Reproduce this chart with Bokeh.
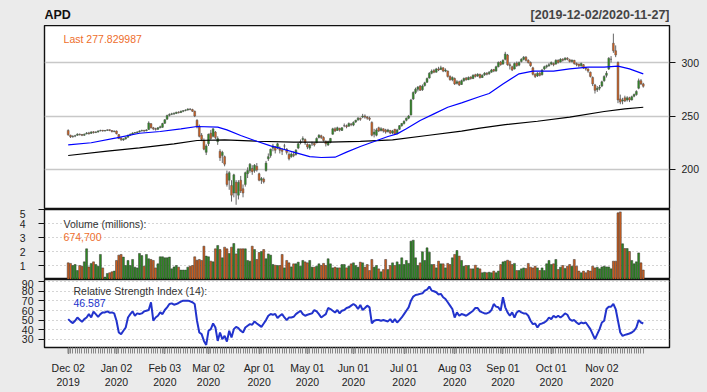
import pandas as pd
from bokeh.plotting import figure
from bokeh.layouts import column
from bokeh.models import (ColumnDataSource, FixedTicker, Label, Range1d,
                          GlobalInlineStyleSheet)
from bokeh.embed import file_html
from bokeh.resources import INLINE

symbol = "APD"
holidays = ["2019-12-25", "2020-01-01", "2020-01-20", "2020-02-17", "2020-04-10",
            "2020-05-25", "2020-07-03", "2020-09-07", "2020-11-26"]
dates = [d for d in pd.bdate_range("2019-12-02", "2020-11-27")
         if d.strftime("%Y-%m-%d") not in holidays]

open_ = [
    # Dec
    236.5, 232.0, 230.5, 231.2, 232.0, 233.0, 232.6, 232.0, 233.4, 234.2, 233.8, 235.2, 234.6, 235.0, 236.2, 236.6, 236.0, 236.6, 237.2, 236.4, 235.4,
    # Jan
    236.0, 232.6, 229.4, 227.6, 228.6, 230.2, 232.2, 233.0, 234.2, 234.4, 235.2, 236.0, 236.6, 236.2, 237.4, 242.8, 239.0, 238.2, 237.6, 239.0, 239.4,
    # Feb
    243.2, 247.0, 250.6, 251.6, 252.0, 252.4, 253.6, 253.2, 254.4, 255.2, 255.6, 256.4, 256.0, 254.5, 246.0, 240.5, 232.0, 227.0, 216.0,
    # Mar
    224.0, 234.0, 231.0, 235.0, 226.0, 217.0, 213.0, 212.0, 196.0, 190.0, 185.0, 178.0, 188.0, 176.0, 190.0, 182.0, 186.0, 196.0, 199.0, 201.0, 199.0, 203.0,
    # Apr
    196.0, 190.0, 191.0, 199.0, 210.0, 213.0, 220.0, 221.0, 220.0, 220.0, 218.5, 222.0, 219.0, 214.0, 212.0, 214.0, 214.0, 220.0, 225.0, 228.0, 228.0,
    # May
    223.5, 220.0, 224.0, 224.5, 225.0, 230.0, 231.5, 230.0, 226.5, 223.0, 225.5, 233.0, 238.0, 236.5, 238.5, 236.5, 241.0, 241.0, 240.5, 242.5,
    # Jun
    241.5, 244.5, 246.5, 248.0, 249.0, 250.0, 249.0, 248.0, 244.0, 233.0, 232.0, 239.0, 236.5, 238.0, 237.0, 235.5, 236.5, 234.0, 237.5, 233.5, 237.5, 241.0,
    # Jul
    243.0, 246.0, 248.0, 251.0, 266.0, 272.0, 275.0, 278.0, 274.5, 278.5, 281.5, 285.5, 290.0, 292.5, 291.0, 294.0, 293.5, 295.0, 292.0, 292.0, 287.0, 284.0,
    # Aug
    285.0, 280.5, 282.0, 279.5, 283.0, 285.5, 284.0, 286.5, 285.0, 288.5, 287.5, 289.0, 286.0, 288.5, 290.0, 289.5, 291.0, 293.5, 292.0, 296.0, 300.5,
    # Sep
    298.5, 303.0, 307.0, 298.0, 296.0, 294.0, 299.5, 297.5, 301.0, 303.0, 305.0, 302.0, 300.0, 295.0, 289.0, 287.5, 290.0, 288.5, 294.0, 296.0, 297.0,
    # Oct
    298.5, 299.0, 298.5, 302.0, 300.5, 303.0, 302.5, 304.0, 302.5, 301.0, 302.0, 299.0, 298.5, 297.0, 298.0, 295.0, 294.0, 291.0, 286.0, 279.0, 274.5, 276.0,
    # Nov
    278.0, 283.0, 288.0, 294.0, 303.0, 318.0, 311.0, 300.0, 266.0, 264.0, 267.0, 265.0, 267.0, 265.0, 268.5, 270.0, 276.0, 283.0, 280.0,
]
high = [
    237.5, 232.5, 232.0, 232.4, 233.8, 233.6, 233.2, 233.6, 235.0, 235.2, 235.8, 235.8, 235.8, 236.6, 237.2, 237.0, 236.8, 237.6, 237.4, 236.8, 236.4,
    236.4, 233.0, 230.0, 229.2, 230.6, 232.6, 233.6, 234.8, 235.0, 235.8, 236.6, 237.2, 237.0, 237.6, 245.0, 243.4, 239.8, 239.0, 239.6, 241.0, 243.6,
    247.0, 251.2, 252.4, 253.0, 253.4, 254.0, 254.4, 255.0, 255.6, 256.2, 257.2, 257.4, 256.8, 255.0, 247.0, 242.0, 234.0, 229.0, 223.5,
    233.5, 237.0, 238.5, 236.0, 231.0, 219.0, 217.5, 213.0, 199.0, 198.5, 190.0, 196.0, 190.0, 190.0, 194.0, 186.0, 198.0, 202.0, 206.0, 204.0, 205.0, 206.0,
    197.0, 193.0, 192.5, 208.0, 215.0, 219.5, 224.0, 222.0, 225.0, 221.5, 220.0, 224.0, 220.0, 216.0, 216.0, 217.0, 219.0, 225.0, 228.0, 231.0, 229.0,
    224.5, 224.0, 226.0, 225.0, 230.0, 233.0, 232.5, 231.0, 227.0, 227.0, 229.5, 239.0, 239.5, 240.0, 239.0, 239.5, 243.0, 242.0, 244.0, 243.5,
    245.0, 246.5, 249.0, 248.5, 252.0, 251.5, 250.0, 249.5, 245.0, 238.0, 238.5, 240.0, 239.5, 238.5, 238.0, 238.0, 237.0, 237.0, 238.0, 238.0, 241.5, 243.5,
    246.0, 248.5, 251.0, 266.0, 273.0, 276.5, 278.0, 279.0, 279.5, 282.0, 286.0, 291.0, 293.5, 294.0, 295.0, 296.0, 297.0, 295.5, 294.5, 292.5, 288.0, 287.0,
    286.0, 283.5, 283.0, 284.0, 286.0, 286.5, 287.0, 287.0, 289.0, 289.5, 290.0, 289.5, 289.0, 291.0, 291.0, 292.0, 294.0, 294.0, 297.0, 301.0, 301.5,
    303.0, 310.0, 308.0, 300.0, 297.0, 300.0, 301.0, 301.0, 304.0, 306.0, 306.0, 303.0, 301.0, 296.0, 290.0, 291.0, 291.0, 294.0, 297.0, 298.0, 299.5,
    301.0, 300.0, 303.0, 303.0, 304.0, 304.0, 305.0, 305.0, 303.5, 303.0, 302.5, 300.0, 299.0, 300.0, 298.5, 296.0, 294.5, 291.5, 287.0, 280.0, 278.0, 279.0,
    283.0, 288.0, 292.0, 305.0, 306.0, 327.0, 316.0, 301.0, 270.0, 267.0, 269.0, 268.5, 268.0, 269.0, 271.0, 274.0, 285.0, 284.5, 281.0,
]
low = [
    231.5, 229.5, 229.8, 230.2, 231.5, 231.8, 231.2, 231.4, 232.8, 232.6, 233.2, 233.6, 234.0, 234.6, 235.6, 235.4, 235.6, 236.0, 235.8, 234.6, 234.8,
    232.8, 228.4, 226.6, 226.8, 228.0, 229.8, 231.4, 232.6, 233.4, 233.8, 234.6, 235.6, 235.2, 235.8, 237.0, 238.4, 236.8, 236.4, 237.0, 238.6, 239.0,
    242.6, 246.6, 249.6, 250.8, 251.0, 251.8, 252.4, 252.8, 253.6, 254.4, 255.0, 255.4, 253.8, 249.0, 238.5, 230.0, 226.5, 218.0, 213.5,
    222.0, 227.5, 230.0, 228.5, 223.0, 208.0, 206.0, 203.0, 184.0, 181.0, 170.0, 174.0, 167.0, 172.0, 178.0, 174.0, 184.0, 192.0, 197.0, 195.0, 197.0, 198.0,
    189.0, 186.5, 187.0, 198.0, 208.0, 211.0, 217.0, 215.0, 219.0, 215.0, 213.5, 219.0, 214.0, 208.5, 211.0, 211.5, 213.0, 219.0, 223.5, 226.0, 223.0,
    219.0, 218.5, 222.0, 221.5, 224.5, 229.0, 228.5, 226.0, 221.5, 222.0, 224.5, 232.5, 235.0, 236.0, 235.5, 236.0, 239.5, 238.5, 240.0, 240.5,
    240.5, 243.5, 245.5, 245.5, 248.0, 247.5, 246.5, 245.5, 231.0, 230.0, 231.0, 235.0, 235.5, 234.5, 233.5, 234.5, 233.0, 233.0, 232.5, 233.0, 237.0, 240.0,
    242.0, 245.0, 247.0, 250.5, 265.0, 270.5, 273.0, 273.5, 273.5, 277.5, 281.0, 285.0, 289.0, 290.0, 290.5, 292.0, 293.0, 291.0, 291.0, 286.0, 283.0, 282.5,
    279.0, 279.5, 278.0, 279.0, 282.0, 283.0, 283.5, 284.0, 284.5, 286.0, 286.5, 285.0, 285.5, 287.5, 288.0, 288.5, 290.5, 291.0, 291.5, 295.5, 297.0,
    298.0, 302.0, 297.0, 293.5, 292.0, 293.5, 296.0, 296.5, 300.0, 302.0, 301.0, 299.0, 296.0, 288.0, 285.5, 286.5, 287.0, 288.0, 293.0, 294.5, 296.0,
    297.5, 296.5, 298.0, 299.0, 300.0, 301.0, 302.0, 302.0, 300.0, 300.0, 298.0, 296.5, 295.5, 296.0, 294.0, 292.5, 290.5, 286.0, 278.0, 271.0, 272.5, 274.0,
    277.0, 282.0, 286.0, 293.0, 300.0, 309.0, 305.0, 262.0, 261.0, 261.0, 263.0, 263.5, 263.0, 264.5, 267.5, 269.0, 275.0, 279.0, 276.5,
]
close = [
    232.5, 230.5, 231.0, 231.5, 233.0, 232.5, 232.0, 233.0, 234.0, 233.5, 235.0, 234.5, 235.0, 236.0, 236.5, 236.0, 236.5, 237.0, 236.5, 235.5, 236.0,
    233.5, 229.0, 228.0, 228.5, 230.0, 232.0, 233.0, 234.0, 234.5, 235.0, 236.0, 236.5, 236.0, 237.0, 243.5, 239.0, 238.0, 237.5, 239.0, 240.0, 243.0,
    246.5, 250.5, 251.5, 252.0, 252.5, 253.5, 253.0, 254.5, 255.0, 255.5, 256.5, 256.0, 254.5, 250.0, 240.0, 231.0, 228.0, 219.0, 222.0,
    233.0, 229.0, 238.0, 230.0, 229.0, 211.0, 216.0, 205.0, 186.0, 197.0, 176.0, 195.0, 178.0, 188.0, 180.0, 178.0, 197.0, 199.0, 205.0, 198.0, 204.0, 199.5,
    190.0, 191.5, 188.5, 206.0, 212.0, 219.0, 222.0, 218.0, 224.0, 218.0, 217.0, 222.0, 216.0, 210.0, 214.5, 213.0, 218.0, 224.0, 226.0, 229.0, 225.0,
    221.0, 223.0, 224.0, 223.0, 229.0, 232.0, 230.0, 227.0, 224.0, 226.0, 229.0, 238.0, 236.0, 239.0, 237.0, 239.0, 241.0, 240.0, 243.0, 242.0,
    244.0, 246.0, 248.0, 247.0, 250.0, 249.0, 248.0, 247.0, 232.0, 235.0, 237.0, 236.0, 238.0, 236.0, 235.0, 237.0, 234.0, 236.0, 233.0, 237.0, 241.0, 243.0,
    245.0, 248.0, 250.0, 265.0, 272.0, 275.0, 277.0, 274.0, 278.0, 281.0, 285.0, 290.0, 292.0, 291.0, 294.0, 293.0, 295.0, 292.0, 293.0, 287.0, 284.0, 286.0,
    280.0, 282.0, 279.0, 283.0, 285.0, 284.0, 286.0, 285.0, 288.0, 287.0, 289.0, 286.0, 288.0, 290.0, 289.0, 291.0, 293.0, 292.0, 296.0, 300.0, 298.0,
    302.0, 308.0, 298.0, 297.0, 293.0, 299.0, 297.0, 300.0, 303.0, 305.0, 302.0, 300.0, 297.0, 289.0, 287.0, 290.0, 288.0, 293.0, 296.0, 297.0, 298.0,
    300.0, 298.0, 302.0, 300.0, 303.0, 302.0, 304.0, 303.0, 301.0, 302.0, 299.0, 298.0, 297.0, 299.0, 295.0, 294.0, 292.0, 287.0, 280.0, 274.0, 276.0, 277.0,
    282.0, 287.0, 290.0, 304.0, 303.0, 311.0, 307.0, 265.0, 263.0, 265.0, 264.0, 267.0, 265.0, 268.0, 270.0, 273.0, 283.0, 280.0, 277.829987,
]

# volume in millions
volume = [
    1.19, 1.15, 1.0, 1.07, 0.64, 1.0, 0.95, 1.26, 2.19, 0.9,
    1.15, 1.26, 1.07, 0.95, 1.79, 0.83, 0.17, 0.43, 0.48, 0.55,
    0.6, 1.36, 1.74, 1.79, 1.6, 1.0, 1.36, 1.0, 1.43, 0.88,
    0.83, 1.86, 1.71, 0.95, 1.79, 1.48, 1.43, 1.36, 0.83, 1.12,
    1.62, 1.62, 1.55, 1.55, 1.6, 0.76, 0.9, 1.0, 0.88, 0.67,
    0.67, 0.67, 0.88, 0.95, 1.0, 1.62, 1.38, 1.43, 1.36, 2.38,
    1.67, 1.62, 1.31, 1.26, 2.19, 2.43, 2.14, 1.55, 2.31, 2.19,
    1.86, 2.31, 2.57, 1.83, 2.19, 2.19, 2.19, 2.19, 1.36, 1.31,
    2.38, 2.14, 1.43, 1.93, 2.0, 2.14, 1.48, 1.83, 1.74, 1.07,
    1.02, 1.0, 1.0, 1.79, 0.83, 1.36, 1.19, 0.9, 1.12, 1.12,
    1.24, 0.95, 1.36, 1.26, 1.19, 1.36, 0.88, 0.88, 0.95, 1.12,
    1.0, 1.15, 1.0, 1.48, 1.12, 0.83, 0.88, 0.83, 0.83, 1.07,
    1.07, 0.83, 0.95, 1.12, 1.19,
    1.0, 0.88, 1.24, 1.19, 0.88, 1.07, 0.64, 1.43, 0.88, 1.0,
    0.76, 0.55, 0.71, 1.43, 0.71, 1.0, 1.19, 1.0, 1.26, 1.07,
    1.55, 1.07, 1.36, 1.15, 2.74, 2.81, 1.55, 1.0, 1.19, 1.98,
    1.36, 2.26, 1.95, 1.07, 1.07, 0.83, 1.31, 1.12, 1.12, 0.83,
    1.15, 1.07, 1.55, 1.79, 2.07, 1.67, 1.36, 0.95, 1.0, 1.0,
    0.76, 0.76, 1.02, 0.83, 0.76, 0.48, 0.52, 0.48, 0.52, 0.48,
    0.6, 0.48, 0.6, 1.07, 1.26, 1.31, 1.38, 1.31, 1.07, 1.15,
    0.64, 0.64, 0.76, 0.83, 0.79, 1.15, 0.88, 0.83, 0.95, 0.83,
    0.64, 0.83, 0.64, 1.12, 1.36, 1.07, 1.12, 1.43, 0.71, 0.88,
    1.0, 0.79, 0.95, 1.07, 0.95, 1.43, 0.95, 0.6, 0.48, 0.6,
    0.48, 0.64, 0.6, 0.95, 0.83, 0.88, 0.76, 0.9, 0.95, 0.9, 0.9,
    0.76, 1.31, 1.31, 4.76, 4.83, 2.55, 2.21, 2.21, 2.0, 1.36,
    1.12, 1.26, 1.9, 1.19, 0.6747,
]

rsi = [
    51.1, 48.7, 47.0, 49.4, 52.8, 50.4, 48.3, 51.1, 52.8, 56.3,
    52.8, 58.8, 56.3, 53.5, 56.3, 58.0, 58.0, 59.1, 57.7, 58.0,
    57.0, 49.4, 37.2, 35.5, 39.0, 42.4, 52.8, 56.3, 59.1, 54.6,
    57.0, 56.3, 57.0, 59.1, 59.8, 60.5, 68.5, 49.4, 52.8, 54.6,
    58.0, 56.3, 60.5, 63.3, 66.7, 67.4, 66.0, 66.7, 67.8, 69.2,
    70.2, 70.2, 70.2, 69.5, 68.5, 66.7, 49.4, 37.2, 35.5, 28.5,
    24.4, 39.0, 40.7, 46.6, 42.4, 28.5, 37.2, 30.3, 33.8, 27.8,
    39.0, 32.0, 40.7, 43.1, 41.7, 39.0, 37.2, 42.4, 44.2, 45.9,
    45.2, 48.7, 46.6, 44.9, 43.1, 46.6, 50.1, 54.6, 56.3, 55.6,
    56.3, 52.2, 54.6, 56.3, 52.8, 50.1, 52.8, 52.8, 53.5, 56.3,
    58.0, 59.8, 56.3, 54.6, 55.6, 56.3, 57.0, 60.5, 59.1, 56.3,
    52.8, 54.6, 56.3, 62.6, 61.5, 59.8, 58.0, 60.5, 57.0, 59.8,
    60.5, 62.6, 63.3, 65.0, 66.7,
    65.0, 61.5, 65.7, 60.5, 62.6, 65.0, 63.3, 46.6, 49.4, 50.1,
    50.1, 49.4, 50.1, 49.4, 48.7, 51.1, 47.6, 51.1, 47.6, 50.1,
    52.8, 56.3, 59.8, 63.3, 70.2, 74.4, 76.1, 76.5, 77.2, 77.8,
    80.6, 81.7, 84.8, 80.6, 79.9, 78.9, 76.5, 77.2, 73.7, 71.9,
    68.5, 65.0, 61.5, 52.8, 58.0, 54.6, 56.3, 55.6, 54.6, 56.3,
    58.0, 59.8, 62.6, 62.6, 59.1, 58.0, 57.0, 57.0, 58.0, 60.5,
    66.7, 64.0, 63.3, 59.8, 73.7, 63.3, 58.0, 54.6, 58.0, 52.8,
    58.0, 59.8, 58.0, 57.0, 57.0, 54.6, 49.4, 45.9, 46.6, 42.4,
    45.9, 46.6, 47.6, 49.4, 52.8, 51.1, 54.6, 52.8, 54.6, 52.8,
    54.6, 57.0, 55.6, 51.1, 49.4, 50.1, 47.6, 45.9, 47.6, 46.6,
    47.6, 44.2, 40.7, 35.5, 30.3, 35.5, 40.7, 47.6, 49.4, 61.5,
    64.0, 64.0, 66.7, 61.5, 49.4, 37.2, 33.8, 34.8, 35.5, 36.2,
    37.2, 39.0, 42.4, 50.1, 47.6, 46.587,
]

# moving averages read at sampled trading-day positions
sma50_day = [0, 10, 21, 31, 40, 49, 56, 65, 69, 75, 81, 88, 92, 98, 105, 110, 116, 121, 127,
             133, 139, 143, 147, 153, 159, 165, 171, 179, 183, 189, 196, 202, 211, 218, 226,
             233, 239, 244, 250]
sma50 = [223.1, 225.0, 229.6, 233.9, 235.5, 238.0, 240.2, 239.6, 237.0, 231.8, 227.1, 222.1,
         219.9, 216.2, 212.1, 211.2, 211.5, 216.2, 221.5, 226.2, 230.8, 233.3, 238.0, 245.8,
         252.0, 258.2, 262.3, 268.2, 271.0, 280.0, 289.4, 291.9, 291.9, 294.1, 295.6, 295.6,
         296.6, 294.1, 289.4]
sma200_day = [0, 17, 31, 46, 56, 68, 82, 98, 113, 127, 141, 156, 171, 179, 190, 204, 218, 233, 242, 250]
sma200 = [213.1, 217.1, 220.2, 224.0, 227.1, 227.7, 226.4, 225.5, 225.5, 226.2, 227.7, 231.8,
          235.8, 238.6, 242.0, 245.1, 248.9, 254.2, 256.7, 258.2]

assert len(dates) == len(open_) == len(high) == len(low) == len(close) == len(volume) == len(rsi) == 251

BG = "#EBEBEB"
UP = "#2E8B22"
DN = "#D2601E"
TXT = "#222222"
FONT = "Liberation Sans"
W = 707
ML, MR = 44, 38
HEAD = 25

n = len(dates)
idx = list(range(n))
colors = [UP if c >= o else DN for o, c in zip(open_, close)]
src = ColumnDataSource(dict(
    x=idx, o=open_, h=high, l=low, c=close,
    top=[max(o, c) for o, c in zip(open_, close)],
    bot=[min(o, c) for o, c in zip(open_, close)],
    col=colors, vol=volume, rsi=rsi))

xr = Range1d(-10.3, 261.4)

def style(p):
    p.border_fill_color = BG
    p.background_fill_color = "white"
    p.outline_line_color = "#111111"
    p.outline_line_width = 1.4
    p.xgrid.visible = False
    for ax in p.yaxis:
        ax.axis_line_color = None
        ax.major_tick_out = 6
        ax.major_tick_in = 0
        ax.minor_tick_line_color = None
        ax.major_tick_line_color = "#111111"
        ax.major_label_text_font = FONT
        ax.major_label_text_font_size = "10.5px"
        ax.major_label_text_color = TXT

# ---- header strip (title and date span), frame aligned with the panels below
p0 = figure(width=W, height=HEAD, x_range=xr, y_range=Range1d(0, HEAD),
            output_backend="svg", toolbar_location=None, x_axis_location=None,
            y_axis_location=None, min_border_top=0, min_border_bottom=0,
            min_border_left=ML, min_border_right=MR)
p0.border_fill_color = BG
p0.background_fill_color = BG
p0.outline_line_color = None
p0.grid.visible = False
p0.add_layout(Label(x=xr.start, y=HEAD - 14, text=symbol, text_font=FONT, text_font_size="12.5px",
                    text_font_style="bold", text_color="#111111", text_align="left",
                    text_baseline="middle"))
p0.add_layout(Label(x=xr.end, y=HEAD - 14,
                    text=f"[{dates[0]:%Y-%m-%d}/{dates[-1]:%Y-%m-%d}]",
                    text_font=FONT, text_font_size="12.5px", text_font_style="bold",
                    text_color="#444444", text_align="right", text_baseline="middle"))

# ---- price panel
p1 = figure(width=W, height=184, x_range=xr, y_range=Range1d(162.6, 334.6),
            output_backend="svg", toolbar_location=None, x_axis_location=None,
            y_axis_location="right", min_border_top=0, min_border_bottom=0,
            min_border_left=ML, min_border_right=MR)
style(p1)
p1.yaxis.ticker = FixedTicker(ticks=[200, 250, 300])
p1.yaxis.major_label_standoff = 6
p1.ygrid.ticker = FixedTicker(ticks=[200, 250, 300])
p1.ygrid.grid_line_color = "#C8C8C8"
p1.ygrid.grid_line_width = 1.5
p1.segment(x0="x", y0="l", x1="x", y1="h", source=src, line_color="#666666", line_width=1)
p1.vbar(x="x", width=0.8, top="top", bottom="bot", source=src, fill_color="col",
        line_color="#555555", line_width=0.5)
p1.line(sma200_day, sma200, line_color="black", line_width=1.2)
p1.line(sma50_day, sma50, line_color="#0000FF", line_width=1.2)
p1.add_layout(Label(x=-2.0, y=322.4, text=f"Last {close[-1]:.6f}", text_font=FONT,
                    text_font_size="10.5px", text_color="#EE6E2C", text_align="left",
                    text_baseline="middle"))

# ---- volume panel
p2 = figure(width=W, height=70, x_range=xr, y_range=Range1d(0, 5),
            output_backend="svg", toolbar_location=None, x_axis_location=None,
            y_axis_location="left", min_border_top=0, min_border_bottom=0,
            min_border_left=ML, min_border_right=MR)
style(p2)
p2.yaxis.ticker = FixedTicker(ticks=[1, 2, 3, 4, 5])
p2.yaxis.major_label_standoff = 13
p2.ygrid.ticker = FixedTicker(ticks=[1, 2, 3, 4])
p2.ygrid.grid_line_color = "#AAAAAA"
p2.ygrid.grid_line_dash = "1 3"
p2.vbar(x="x", width=0.85, top="vol", bottom=0, source=src, fill_color="col",
        line_color="#333333", line_width=0.5)
p2.add_layout(Label(x=-2.0, y=4.0, text="Volume (millions):", text_font=FONT,
                    text_font_size="10.5px", text_color="#333333", text_align="left",
                    text_baseline="middle"))
p2.add_layout(Label(x=-2.0, y=3.07, text=f"{round(volume[-1] * 1e6):,}", text_font=FONT,
                    text_font_size="10.5px", text_color="#EE6E2C", text_align="left",
                    text_baseline="middle"))

# ---- RSI panel
month_starts = [i for i in idx if i == 0 or dates[i].month != dates[i - 1].month]
p3 = figure(width=W, height=113, x_range=xr, y_range=Range1d(21.7, 92.1),
            output_backend="svg", toolbar_location=None, x_axis_location="below",
            y_axis_location="left", min_border_top=0, min_border_bottom=45,
            min_border_left=ML, min_border_right=MR)
style(p3)
p3.yaxis.ticker = FixedTicker(ticks=[30, 40, 50, 60, 70, 80, 90])
p3.yaxis.major_label_standoff = 5
p3.ygrid.ticker = FixedTicker(ticks=[30, 40, 50, 60, 70, 80, 90])
p3.ygrid.grid_line_color = "#AAAAAA"
p3.ygrid.grid_line_dash = "1 3"
xa = p3.xaxis[0]
xa.ticker = FixedTicker(ticks=month_starts, minor_ticks=idx)
xa.major_label_overrides = {i: f"{dates[i]:%b %d}\n{dates[i]:%Y}" for i in month_starts}
xa.axis_line_color = None
xa.major_tick_out = 6
xa.major_tick_in = 0
xa.minor_tick_out = 6
xa.minor_tick_in = 0
xa.major_tick_line_color = "#111111"
xa.major_tick_line_width = 1.5
xa.minor_tick_line_color = "#888888"
xa.major_label_standoff = 8
xa.major_label_text_font = FONT
xa.major_label_text_font_size = "10.5px"
xa.major_label_text_color = TXT
p3.line("x", "rsi", source=src, line_color="#2233CC", line_width=2)
p3.add_layout(Label(x=2.3, y=80.0, text="Relative Strength Index (14):", text_font=FONT,
                    text_font_size="10.5px", text_color="#333333", text_align="left",
                    text_baseline="middle"))
p3.add_layout(Label(x=2.3, y=67.3, text=f"{rsi[-1]:.3f}", text_font=FONT,
                    text_font_size="10.5px", text_color="#2233CC", text_align="left",
                    text_baseline="middle"))

layout = column(p0, p1, p2, p3, spacing=0,
                stylesheets=[GlobalInlineStyleSheet(
                    css="html, body { background: #EBEBEB; margin: 0; padding: 0; overflow: hidden; }")])

open("out.html", "w").write(file_html(layout, INLINE))
